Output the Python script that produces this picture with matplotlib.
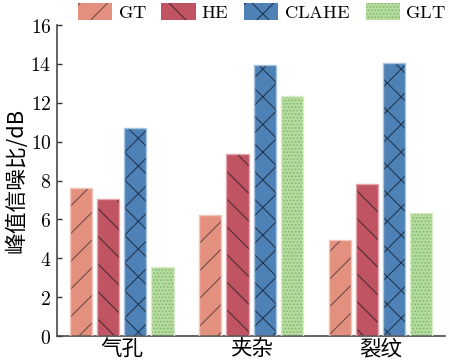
import matplotlib
matplotlib.use("Agg")
import matplotlib.pyplot as plt
import numpy as np
from matplotlib.patches import Patch
from matplotlib.ticker import FuncFormatter

# data
categories = ['气孔', '夹杂', '裂纹']
methods = ['GT', 'HE', 'CLAHE', 'GLT']
gt = [7.6, 6.25, 4.95]
he = [7.05, 9.38, 7.8]
clahe = [10.7, 13.93, 14.05]
glt = [3.55, 12.35, 6.35]

colors = ['#E3907F', '#C05462', '#4E81B5', '#B4DC9E']
edges = ['#F2C4BA', '#E3A4AC', '#A9C4E0', '#D8EECB']
hatchcols = ['#6b4a44', '#4a2a30', '#1f3550', '#86b46e']
hatches = ['//', '\\\\', 'xx', '........']

plt.rcParams['mathtext.fontset'] = 'cm'
plt.rcParams['hatch.linewidth'] = 0.45

# small figure at high dpi so the hatch lines come out sparse like the original
dpi = 166.67
fig = plt.figure(figsize=(450 / dpi, 363 / dpi), dpi=dpi)
ax = fig.add_axes([0.127, 0.074, 0.862, 0.857])

x = np.arange(len(categories))
width = 0.172
offsets = [-1.5, -0.5, 0.5, 1.5]
series = [gt, he, clahe, glt]
handles = []
for i, vals in enumerate(series):
    pos = x + offsets[i] * 0.21
    ax.bar(pos, vals, width, color=colors[i], edgecolor=hatchcols[i],
           linewidth=0, hatch=hatches[i], zorder=2)
    ax.bar(pos, vals, width, fill=False, edgecolor=edges[i], linewidth=0.6, zorder=3)
    handles.append(Patch(facecolor=colors[i], edgecolor=hatchcols[i],
                         linewidth=0, hatch=hatches[i]))

cjk = ['Noto Sans CJK SC', 'DejaVu Sans']
ax.set_xlim(-0.5, 2.5)
ax.set_ylim(0, 16)
ax.set_yticks(range(0, 17, 2))
ax.yaxis.set_major_formatter(FuncFormatter(lambda v, p: '$\\mathrm{%d}$' % v))
ax.set_xticks(x)
ax.set_xticklabels(categories, family=cjk, fontsize=9.3)
ax.tick_params(axis='y', direction='in', length=2.2, width=0.6, labelsize=8.5,
               color='#333333', pad=2.5)
ax.tick_params(axis='x', length=0, pad=1.0)
for s in ['top', 'right']:
    ax.spines[s].set_visible(False)
for s in ['left', 'bottom']:
    ax.spines[s].set_color('#444444')
    ax.spines[s].set_linewidth(0.7)

ax.set_ylabel('峰值信噪比/dB', family=cjk, fontsize=9.4, labelpad=1)

leg = fig.legend(handles, ['$\\mathrm{%s}$' % m for m in methods], loc='center',
                 bbox_to_anchor=(0.582, 0.966), ncol=4, frameon=False,
                 fontsize=8.0, handlelength=1.85, handleheight=1.0,
                 handletextpad=0.3, columnspacing=0.8, borderaxespad=0)

fig.savefig('out.png', dpi=dpi)
